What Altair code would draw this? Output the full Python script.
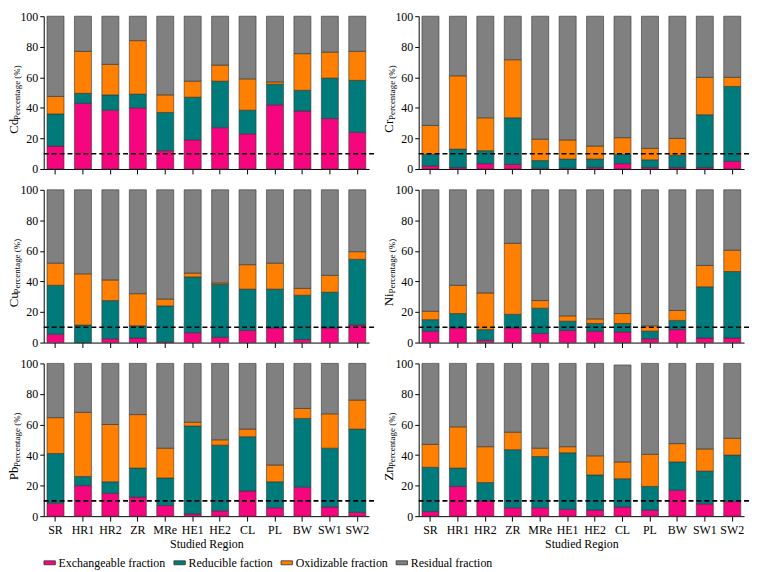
import altair as alt
import pandas as pd

regions = ["SR", "HR1", "HR2", "ZR", "MRe", "HE1", "HE2", "CL", "PL", "BW", "SW1", "SW2"]
fractions = ["Exchangeable fraction", "Reducible faction", "Oxidizable fraction", "Residual fraction"]
colors = ["#F5067F", "#007B7B", "#FF8000", "#808080"]
y_ticks = [0, 20, 40, 60, 80, 100]

# segment values (%) per metal: exchangeable, reducible, oxidizable, residual
cd_exch = [15, 43, 38.5, 40, 12, 19, 27, 23, 42, 38, 33, 24]
cd_red = [21, 6.5, 10, 9, 25, 28, 30.5, 15.5, 13.5, 13.5, 26.5, 34]
cd_ox = [11.5, 27.5, 20, 35, 11.5, 10.5, 10.5, 20.5, 1.5, 24, 17, 19]
cd_res = [52.5, 23, 31.5, 16, 51.5, 42.5, 32, 41, 43, 24.5, 23.5, 23]

cr_exch = [2, 1, 3.5, 3, 0.5, 0.5, 1, 3.5, 1, 1, 1, 5]
cr_red = [7.5, 12, 8.5, 30.5, 5, 6, 5.5, 6, 5, 8, 34.5, 49]
cr_ox = [19, 48, 21.5, 38, 14, 12.5, 8.5, 11, 7.5, 11, 24.5, 6]
cr_res = [71.5, 39, 66.5, 28.5, 80.5, 81, 85, 79.5, 86.5, 80, 40, 40]

cu_exch = [5.5, 0, 2.5, 3, 0.5, 6.5, 3.5, 8, 9.5, 2, 9.5, 11.5]
cu_red = [32, 11.5, 25, 8, 23.5, 36.5, 34.5, 27, 25.5, 29, 23.5, 43]
cu_ox = [14.5, 33.5, 13.5, 21, 4.5, 2.5, 1, 16, 17, 4.5, 11, 5]
cu_res = [48, 55, 59, 68, 71.5, 54.5, 61, 49, 48, 64.5, 56, 40.5]

ni_exch = [7.5, 9.5, 1.5, 9.5, 6, 8, 7.5, 7, 2.5, 8.5, 3, 3]
ni_red = [7.5, 9.5, 7, 9, 16.5, 6, 5, 5.5, 5, 6, 33.5, 43.5]
ni_ox = [5.5, 18.5, 24, 46.5, 5, 3.5, 3, 6.5, 3.5, 6.5, 14, 14]
ni_res = [79.5, 62.5, 67.5, 35, 72.5, 82.5, 84.5, 81, 89, 79, 49.5, 39.5]

pb_exch = [8.5, 20, 15, 12.5, 7, 1.5, 3.5, 16.5, 5.5, 19, 6, 2.5]
pb_red = [32.5, 6, 7.5, 19, 18, 57.5, 43, 35.5, 17, 45, 38.5, 54.5]
pb_ox = [23.5, 42, 37.5, 35, 19.5, 2.5, 3.5, 5, 11, 6.5, 22.5, 19]
pb_res = [35.5, 32, 40, 33.5, 55.5, 38.5, 50, 43, 66.5, 29.5, 33, 24]

zn_exch = [3, 19.5, 10, 5.5, 5.5, 4.5, 4, 6, 4, 17, 8, 9.5]
zn_red = [29, 12, 12, 38, 33.5, 37, 23, 18.5, 15.5, 18.5, 21.5, 30.5]
zn_ox = [15, 27, 23.5, 11.5, 5.5, 4, 12.5, 11, 21, 12, 14.5, 11]
zn_res = [53, 41.5, 54.5, 45, 55.5, 54.5, 60.5, 63.5, 59.5, 52.5, 56, 49]

metals = [
    ("Cd", [cd_exch, cd_red, cd_ox, cd_res]),
    ("Cr", [cr_exch, cr_red, cr_ox, cr_res]),
    ("Cu", [cu_exch, cu_red, cu_ox, cu_res]),
    ("Ni", [ni_exch, ni_red, ni_ox, ni_res]),
    ("Pb", [pb_exch, pb_red, pb_ox, pb_res]),
    ("Zn", [zn_exch, zn_red, zn_ox, zn_res]),
]
threshold = 10

FONT = "Liberation Serif"
W = 328
H = 154

y_scale = alt.Scale(domain=[0, 100], nice=False, zero=True)
y_axis = alt.Axis(title="", values=y_ticks, labelFont=FONT, labelFontSize=12,
                  labelColor="black", tickColor="black", domainColor="black",
                  tickSize=4, labelPadding=2, grid=False, labelOverlap=False)


def panel(metal, series, show_x):
    rows = []
    for fi, (fname, vals) in enumerate(zip(fractions, series)):
        for r, v in zip(regions, vals):
            rows.append({"Region": r, "Fraction": fname, "Value": v, "idx": fi})
    df = pd.DataFrame(rows)

    xaxis_kwargs = dict(labels=show_x, labelAngle=0, labelFont=FONT, labelFontSize=12,
                        labelColor="black", tickColor="black", domainColor="black",
                        tickSize=5, labelPadding=3, grid=False)
    if show_x:
        xaxis_kwargs.update(title="Studied Region", titleFont=FONT, titleFontSize=12,
                            titleFontWeight="normal", titleColor="black", titlePadding=4)
    else:
        xaxis_kwargs.update(title="")

    bars = alt.Chart(df).mark_bar(stroke="#333333", strokeWidth=0.6).encode(
        x=alt.X("Region:N", sort=regions,
                scale=alt.Scale(paddingInner=0.38, paddingOuter=0.12),
                axis=alt.Axis(**xaxis_kwargs)),
        y=alt.Y("Value:Q", stack="zero", scale=y_scale, axis=y_axis),
        color=alt.Color("Fraction:N", sort=fractions,
                        scale=alt.Scale(domain=fractions, range=colors),
                        legend=alt.Legend(title=None, orient="none", direction="horizontal",
                                          legendX=0, legendY=H * 3 + 83,
                                          labelFont=FONT, labelFontSize=12, labelColor="black",
                                          symbolType="M-1.15,-0.4H1.15V0.4H-1.15Z",
                                          symbolSize=100, symbolStrokeColor="#333333",
                                          symbolStrokeWidth=0.8, symbolOpacity=1,
                                          columnPadding=6, labelOffset=3)),
        order=alt.Order("idx:Q"),
    )

    rule = alt.Chart(pd.DataFrame({"Value": [threshold]})).mark_rule(
        color="black", strokeDash=[5, 3], strokeWidth=1.6
    ).encode(y=alt.Y("Value:Q", scale=y_scale, axis=y_axis),
             x=alt.value(0), x2=alt.value(W + 5))

    sym = alt.Chart(pd.DataFrame({"t": [metal]})).mark_text(
        angle=270, font=FONT, fontSize=13, baseline="middle", align="center", color="black"
    ).encode(text="t:N", x=alt.value(-30), y=alt.value(H * 0.72))

    sub = alt.Chart(pd.DataFrame({"t": ["Percentage (%)"]})).mark_text(
        angle=270, font=FONT, fontSize=9, baseline="middle", align="center", color="black"
    ).encode(text="t:N", x=alt.value(-27), y=alt.value(H * 0.5))

    return alt.layer(bars, rule, sym, sub).properties(width=W, height=H)


rows = []
for i in range(3):
    left = panel(metals[2 * i][0], metals[2 * i][1], i == 2)
    right = panel(metals[2 * i + 1][0], metals[2 * i + 1][1], i == 2)
    rows.append(alt.hconcat(left, right, spacing=8))

chart = (
    alt.vconcat(*rows, spacing=9)
    .properties(padding=0)
    .configure_view(stroke=None)
    .configure_axis(labelFont=FONT, titleFont=FONT, labelColor="black", titleColor="black")
    .configure_axisY(values=y_ticks, labelOverlap=False, labelFontSize=12)
    .configure_legend(labelFont=FONT, labelFontSize=12)
    .configure_text(font=FONT)
)

chart.save("out.html", embed_options={"renderer": "svg", "actions": False})
